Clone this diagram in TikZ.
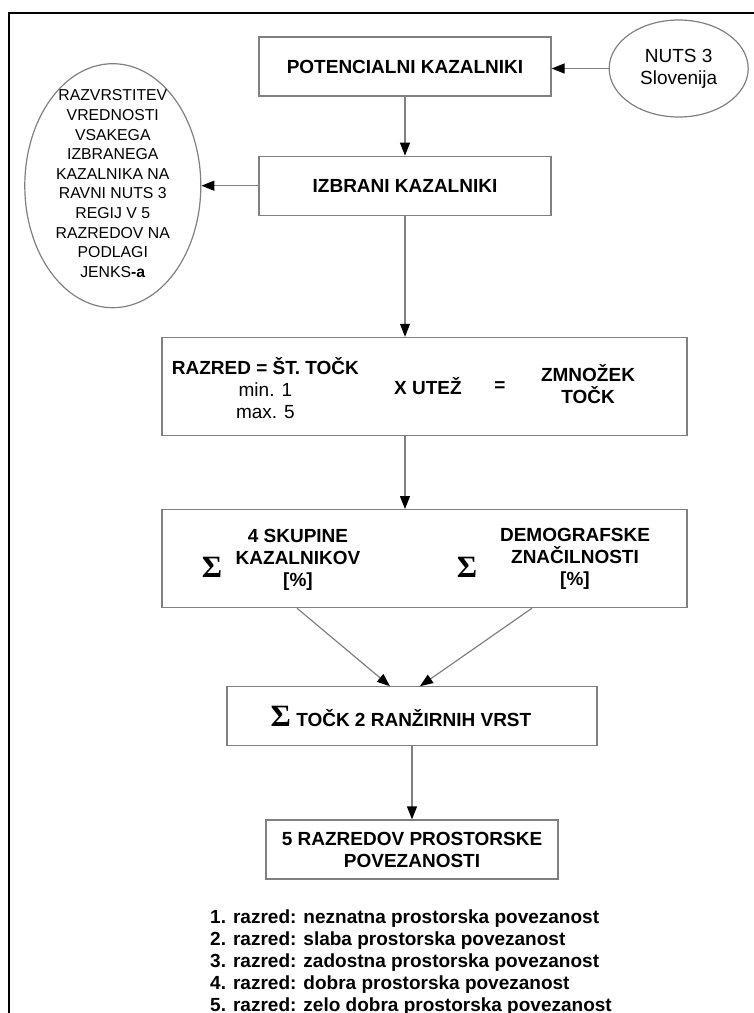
\documentclass[tikz,border=0pt]{standalone}
\usepackage{fontspec}
\setmainfont{Liberation Sans}
\newfontfamily\sigmafont{Liberation Serif}
\usetikzlibrary{shapes.geometric, positioning, arrows.meta}
\tikzset{>={Triangle[length=6.5pt,width=5pt,color=black]}}
\definecolor{linegray}{RGB}{128,128,128}
\tikzset{
  kbox/.style = {draw = linegray, line width = 0.6pt, inner sep = 0pt, align = center, font = \bfseries},
  kell/.style = {ellipse, draw = linegray, line width = 0.6pt, inner sep = 0pt, align = center},
  flow/.style = {->, draw = linegray, line width = 0.6pt}
}
\def \boxwidth {146pt}
\def \boxheight {29.5pt}
\def \widewidth {262.5pt}
\def \wideheight {49pt}
\newcommand{\bigsum} {{\sigmafont\bfseries\fontsize{15.5pt}{16pt}\selectfont Σ}}

\begin{document}
\begin{tikzpicture}[x = 0.5pt, y = -0.5pt]
\fontsize{9.5pt}{11pt}\selectfont
\useasboundingbox (0,0) rectangle (754,1013);

% frame (cut off at right and bottom)
\draw[line width = 1pt] (9,1013) -- (9,13) -- (754,13);

\node (pot) [kbox, minimum width = \boxwidth, minimum height = \boxheight] at (405,66.5) {POTENCIALNI KAZALNIKI};

\node (nuts) [kell, minimum width = 69.5pt, minimum height = 48.5pt, right = 28.5pt of pot, yshift = -1pt] {NUTS 3\\Slovenija};

\draw[flow] (nuts.west) -- (nuts.west -| pot.east);

\node (izb) [kbox, minimum width = \boxwidth, minimum height = \boxheight, below = 29.5pt of pot] {IZBRANI KAZALNIKI};

\draw[flow] (pot) -- (izb);

\node (razv) [kell, minimum width = 88pt, minimum height = 122pt, left = 28.5pt of izb] {};
\node (razv_txt) [align = center, inner sep = 0pt, font = \fontsize{7.9pt}{9.8pt}\selectfont] at ([yshift = 1pt] razv.center) {RAZVRSTITEV\\VREDNOSTI\\VSAKEGA\\IZBRANEGA\\KAZALNIKA NA\\RAVNI NUTS 3\\REGIJ V 5\\RAZREDOV NA\\PODLAGI\\JENKS\textbf{-a}};

\draw[flow] (izb.west) -- (izb.west -| razv.east);

\node (razred) [kbox, minimum width = \widewidth, minimum height = \wideheight, below = 60.5pt of izb, xshift = 9.75pt] {};

\node (razred_l) [align = center, inner sep = 0pt] at ([xshift = 52pt, yshift = -1pt] razred.west) {\textbf{RAZRED = ŠT. TOČK}\\min. 1\\max. 5};
\node (utez) [font = \bfseries] at ([xshift = 1.75pt] razred.center) {X UTEŽ};
\node (enako) [font = \bfseries] at ([xshift = 37.75pt] razred.center) {=};
\node (zmnozek) [font = \bfseries, align = center] at ([xshift = 81.75pt, yshift = 1pt] razred.center) {ZMNOŽEK\\TOČK};

\draw[flow] (izb) -- (izb |- razred.north);

\node (sigma) [kbox, minimum width = \widewidth, minimum height = \wideheight, below = 36.5pt of razred] {};

\node (sum_a) [inner sep = 0pt] at ([xshift = -106.25pt, yshift = -4.25pt] sigma.center) {\bigsum};
\node (skupine) [font = \bfseries, align = center] at ([xshift = -63.25pt, yshift = -0.75pt] sigma.center) {4 SKUPINE\\KAZALNIKOV\\{[\%]}};
\node (sum_b) [inner sep = 0pt] at ([xshift = 21.25pt, yshift = -4.25pt] sigma.center) {\bigsum};
\node (demog) [font = \bfseries, align = center] at ([xshift = 75.25pt, yshift = -0.25pt] sigma.center) {DEMOGRAFSKE\\ZNAČILNOSTI\\{[\%]}};

\draw[flow] (izb |- razred.south) -- (izb |- sigma.north);

\node (tock) [kbox, minimum width = 185pt, minimum height = \boxheight, below = 39pt of sigma, xshift = -6.25pt] {};
\node (tock_txt) [font = \bfseries, inner sep = 0pt] at ([xshift = -5.5pt] tock.center) {\bigsum\ TOČK 2 RANŽIRNIH VRST};

\draw[flow] ([xshift = -63.75pt] sigma.south) -- ([xshift = -11pt] tock.north);
\draw[flow] ([xshift = 53.75pt] sigma.south) -- ([xshift = 4pt] tock.north);

\node (raz5) [kbox, minimum width = \boxwidth, minimum height = \boxheight, below = 36.5pt of tock] {5 RAZREDOV PROSTORSKE\\POVEZANOSTI};

\draw[flow] (tock) -- (raz5);

\node (legend) [align = left, font = \bfseries, inner sep = 0pt] at ([xshift = -0.5pt, yshift = -41.5pt] raz5.south) {1. razred: neznatna prostorska povezanost\\2. razred: slaba prostorska povezanost\\3. razred: zadostna prostorska povezanost\\4. razred: dobra prostorska povezanost\\5. razred: zelo dobra prostorska povezanost};

\end{tikzpicture}
\end{document}
